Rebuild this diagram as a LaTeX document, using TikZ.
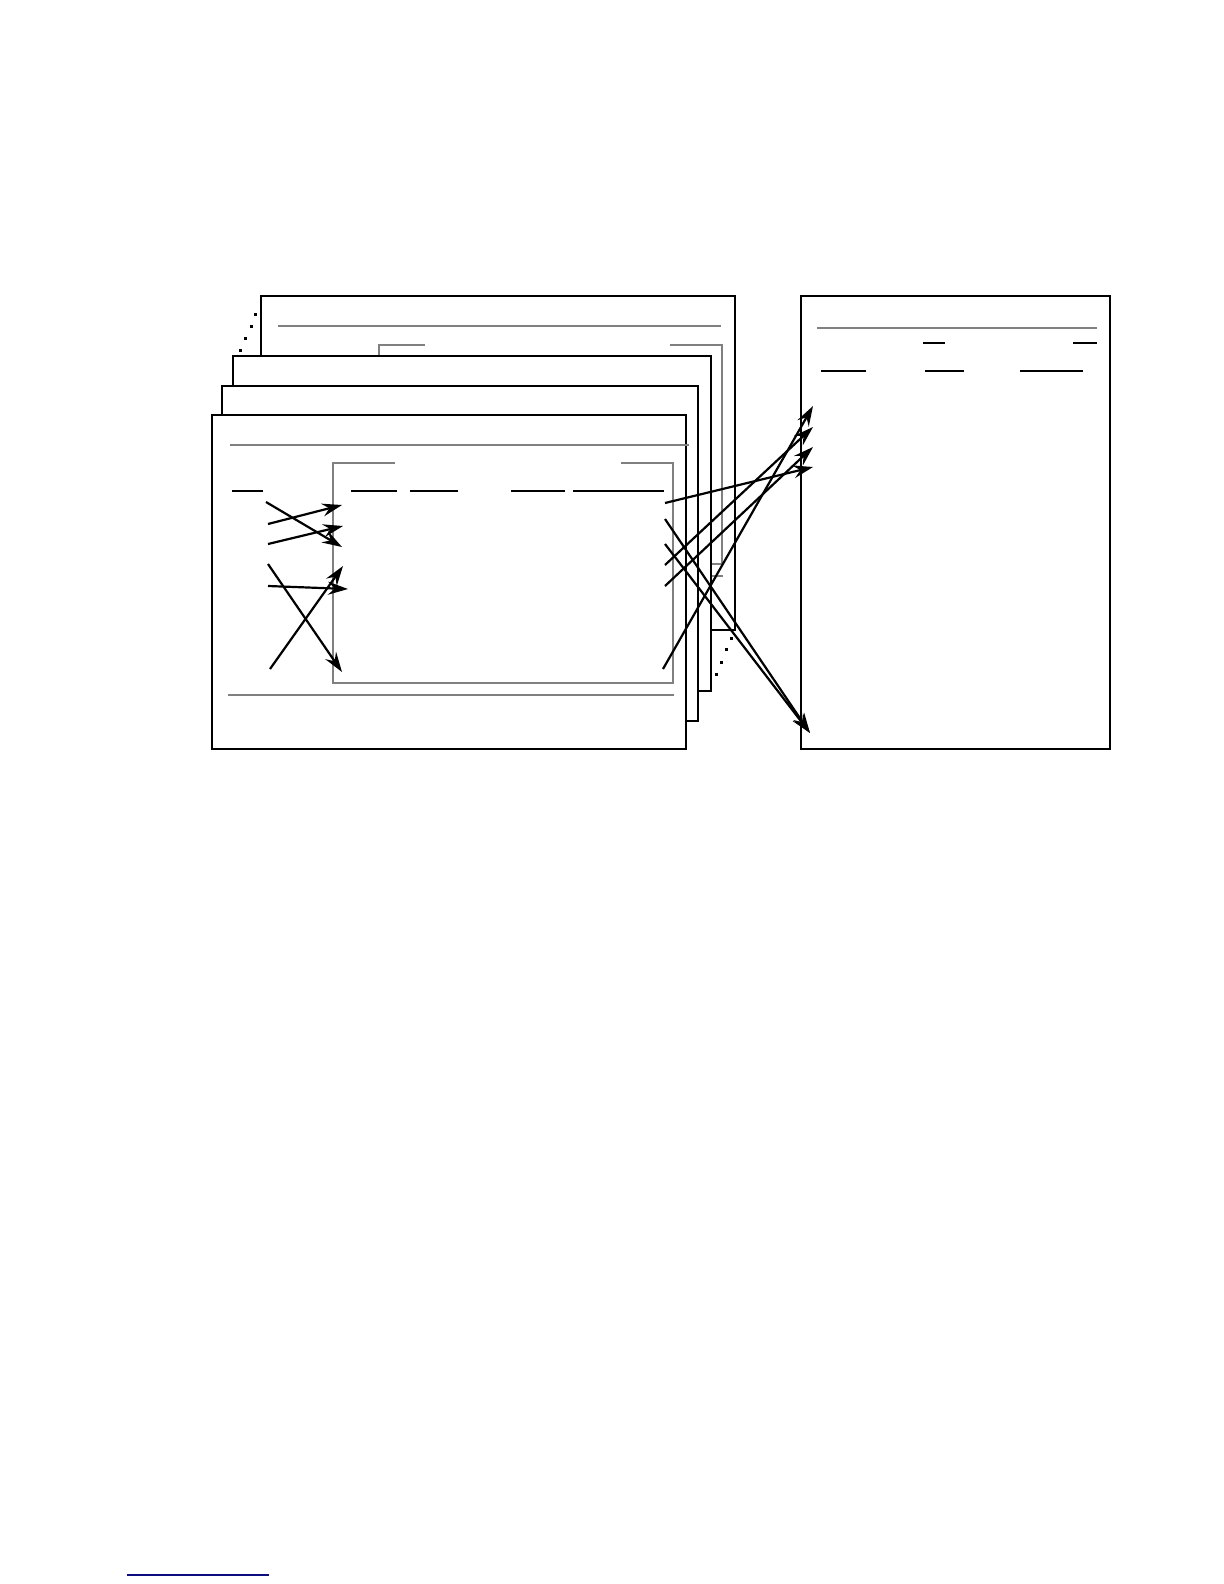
\documentclass[tikz,border=0pt]{standalone}
\usetikzlibrary{arrows.meta}
\definecolor{rulegray}{gray}{0.5}
\definecolor{footblue}{rgb}{0.05,0.05,0.5}
\tikzset{
  page/.style={draw,line width=1.3bp,fill=white},
  rule/.style={draw=rulegray,line width=1bp},
  box/.style={draw=rulegray,line width=0.8bp},
  uline/.style={line width=0.7bp},
  link/.style={line width=1.1bp,-{Stealth[length=10bp,width=6.5bp,inset=3.5bp]}},
}
\begin{document}
\begin{tikzpicture}[x=0.5bp,y=-0.5bp]
  \useasboundingbox (0,0) rectangle (1224,1584);

  %% back page
  \draw[page] (261,296) rectangle (735,630);
  \draw[rule] (278,326) -- (721,326);
  \draw[box] (425,345) -- (379,345) -- (379,564) -- (722,564) -- (722,345) -- (670,345);
  \draw[rule] (278,576) -- (723,576);

  %% dots between the pages
  \foreach \x/\y in {254/313,250/325,244/337,239/349,730/637,725/648,720/661,715/673}
    \fill (\x,\y) rectangle +(2.5,2.5);

  %% middle pages
  \draw[page] (233,356) rectangle (711,691);
  \draw[page] (222,386) rectangle (698,721);

  %% front page
  \draw[page] (212,415) rectangle (686,749);
  \draw[rule] (230,445) -- (689,445);
  \draw[rule] (228,695) -- (674,695);
  \draw[box] (395,463) -- (333,463) -- (333,683) -- (673,683) -- (673,463) -- (621,463);
  \foreach \a/\b in {232/263,351/397,410/458,511/565,573/664}
    \draw[uline] (\a,491) -- (\b,491);

  %% right page
  \draw[page] (801,296) rectangle (1110,749);
  \draw[rule] (817,328) -- (1097,328);
  \draw[line width=1.2bp] (923,343) -- (945,343) (1073,343) -- (1097,343);
  \foreach \a/\b in {821/866,925/964,1020/1083}
    \draw[uline] (\a,371) -- (\b,371);

  %% left links
  \coordinate (a1) at (266,502);
  \coordinate (a2) at (268,524);
  \coordinate (a3) at (268,544);
  \coordinate (a4) at (268,564);
  \coordinate (a5) at (268,586);
  \coordinate (a6) at (270,669);
  \coordinate (b1) at (342,547);
  \coordinate (b2) at (342,505);
  \coordinate (b3) at (343,526);
  \coordinate (b4) at (342,672);
  \coordinate (b5) at (348,589);
  \coordinate (b6) at (343,566);
  \foreach \i in {1,...,6}
    \draw[link] (a\i) -- (b\i);

  %% right links
  \coordinate (c1) at (665,503);
  \coordinate (c2) at (665,519);
  \coordinate (c3) at (665,544);
  \coordinate (c4) at (665,565);
  \coordinate (c5) at (665,586);
  \coordinate (c6) at (663,669);
  \coordinate (d1) at (813,406);
  \coordinate (d2) at (813,427);
  \coordinate (d3) at (813,447);
  \coordinate (d4) at (813,467);
  \coordinate (d5) at (810,733);
  \draw[link] (c1) -- (d4);
  \draw[link] (c2) -- (d5);
  \draw[link] (c3) -- (d5);
  \draw[link] (c4) -- (d2);
  \draw[link] (c5) -- (d3);
  \draw[link] (c6) -- (d1);

  %% footnote rule
  \draw[footblue,line width=0.7bp] (127,1575) -- (269,1575);
\end{tikzpicture}
\end{document}
